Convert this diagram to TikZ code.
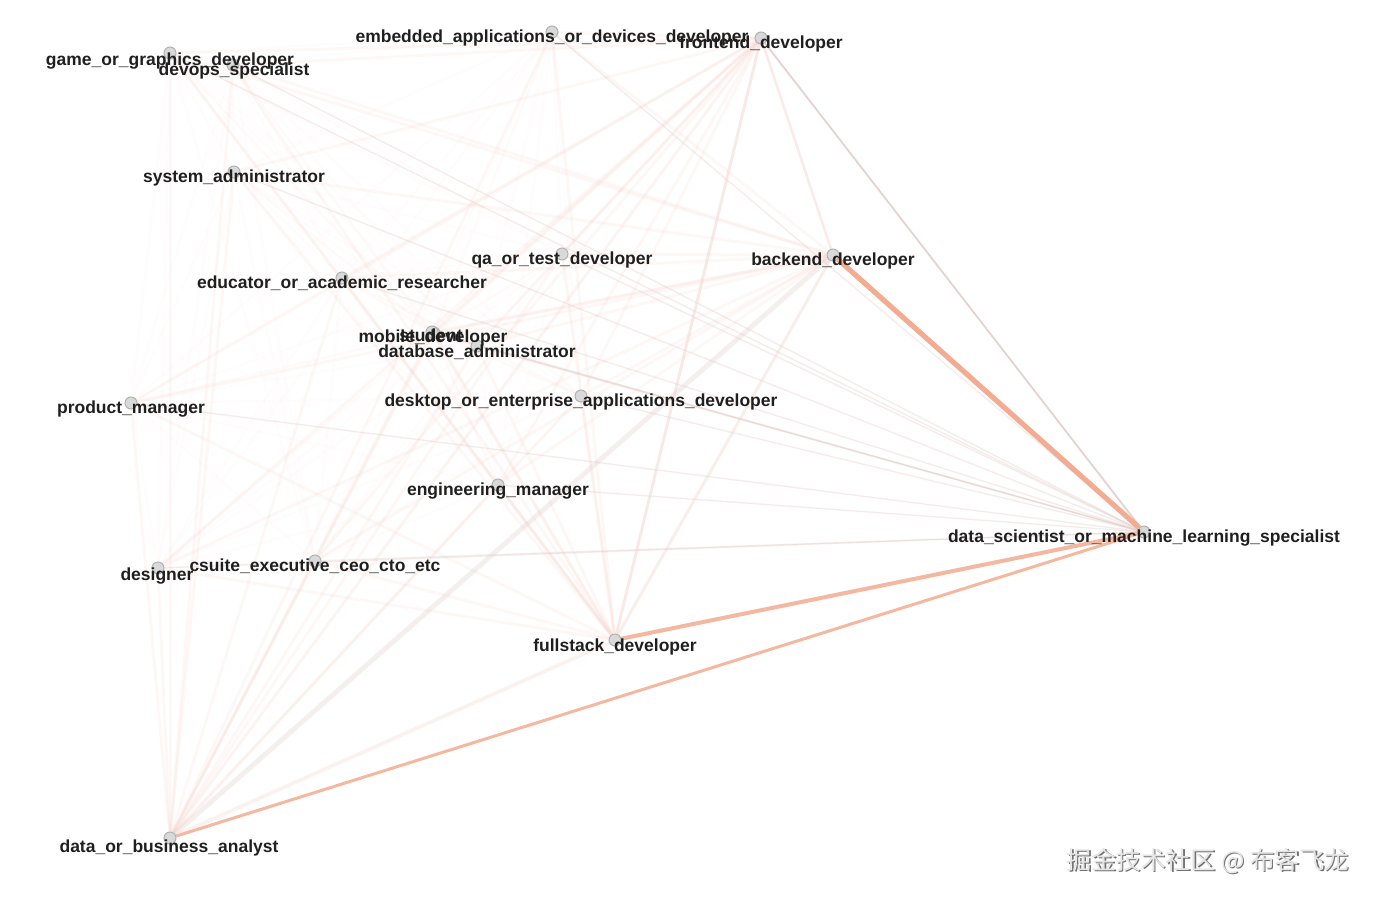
\documentclass[tikz,border=0pt]{standalone}
\usepackage{fontspec}
\setmainfont{Liberation Sans}
\newfontfamily\cjk{Noto Sans CJK SC}
\pgfdeclarelayer{bg}
\pgfsetlayers{bg,main}
\definecolor{edgebase}{RGB}{246,212,204}
\definecolor{edgehub}{RGB}{244,208,198}
\definecolor{edgeds}{RGB}{222,200,198}
\definecolor{strong}{RGB}{242,172,146}
\definecolor{strongb}{RGB}{244,184,160}
\definecolor{midpink}{RGB}{242,210,204}
\definecolor{graypink}{RGB}{222,204,202}
\tikzset{
  dot/.style={circle, minimum size=6pt, inner sep=0pt, fill=gray!30, draw=gray!60, line width=0.5pt},
  lab/.style={anchor=base, inner sep=0pt, text=black!88, font=\bfseries\fontsize{8.75}{10}\selectfont},
  base/.style={draw=edgebase, line width=1.2pt, opacity=0.06},
  hub/.style={draw=edgehub, line width=1.5pt, opacity=0.12},
  dsl/.style={draw=edgeds, line width=0.6pt, opacity=0.32},
  wm/.style={inner sep=0pt, font=\cjk\fontsize{12.4}{14}\selectfont}
}
\begin{document}
\begin{tikzpicture}[x=0.5pt,y=-0.5pt]
\useasboundingbox (0,0) rectangle (1376,900);
% node markers
\node[dot] (gg) at (170,53) {};
\node[dot] (dv) at (233,65) {};
\node[dot] (em) at (552,32) {};
\node[dot] (fe) at (761,38) {};
\node[dot] (sa) at (234,172) {};
\node[dot] (qa) at (562,254) {};
\node[dot] (be) at (833,255) {};
\node[dot] (ed) at (342,278) {};
\node[dot] (mo) at (434,333) {};
\node[dot] (st) at (432,332) {};
\node[dot] (db) at (477,346) {};
\node[dot] (pm) at (131,403) {};
\node[dot] (de) at (581,396) {};
\node[dot] (en) at (498,485) {};
\node[dot] (ds) at (1144,532) {};
\node[dot] (dz) at (158,568) {};
\node[dot] (cs) at (315,561) {};
\node[dot] (fs) at (615,640) {};
\node[dot] (da) at (170,838) {};
% edges
\begin{pgfonlayer}{bg}
\foreach \a [count=\i] in {gg,dv,em,fe,sa,qa,be,ed,mo,st,db,pm,de,en,ds,dz,cs,fs,da}{
  \foreach \b [count=\j] in {gg,dv,em,fe,sa,qa,be,ed,mo,st,db,pm,de,en,ds,dz,cs,fs,da}{
    \ifnum\j>\i \draw[base] (\a) -- (\b); \fi
  }
}
\foreach \h in {fe,be,fs,da}{
  \foreach \b in {gg,dv,em,sa,qa,ed,mo,st,db,pm,de,en,dz,cs}{
    \draw[hub] (\h) -- (\b);
  }
}
\foreach \b in {gg,dv,em,sa,qa,ed,mo,st,db,pm,de,en,dz,cs}{
  \draw[dsl] (ds) -- (\b);
}
\draw[draw=midpink, line width=1.5pt, opacity=0.45] (fe) -- (fs);
\draw[draw=midpink, line width=1.3pt, opacity=0.4] (fe) -- (be);
\draw[draw=midpink, line width=1.5pt, opacity=0.35] (be) -- (fs);
\draw[draw=midpink, line width=1.5pt, opacity=0.2] (fe) -- (da);
\draw[draw=graypink, line width=2.5pt, opacity=0.3] (da) -- (be);
\draw[draw=midpink, line width=2pt, opacity=0.25] (da) -- (fs);
\draw[draw=graypink, line width=0.9pt, opacity=0.85] (fe) -- (ds);
\draw[draw=strongb, line width=1.5pt] (da) -- (ds);
\draw[draw=strongb, line width=2pt] (fs) -- (ds);
\draw[draw=strong, line width=2.6pt] (be) -- (ds);
\end{pgfonlayer}
% labels
\node[lab] (gg-t) at (170,65) {game\_or\_graphics\_developer};
\node[lab] (dv-t) at (234,75) {devops\_specialist};
\node[lab] (em-t) at (552,42) {embedded\_applications\_or\_devices\_developer};
\node[lab] (fe-t) at (761,48) {frontend\_developer};
\node[lab] (sa-t) at (234,182) {system\_administrator};
\node[lab] (qa-t) at (562,264) {qa\_or\_test\_developer};
\node[lab] (be-t) at (833,265) {backend\_developer};
\node[lab] (ed-t) at (342,288) {educator\_or\_academic\_researcher};
\node[lab] (mo-t) at (433,342) {mobile\_developer};
\node[lab] (st-t) at (431,341) {student};
\node[lab] (db-t) at (477,357) {database\_administrator};
\node[lab] (pm-t) at (131,413) {product\_manager};
\node[lab] (de-t) at (581,406) {desktop\_or\_enterprise\_applications\_developer};
\node[lab] (en-t) at (498,495) {engineering\_manager};
\node[lab] (ds-t) at (1144,542) {data\_scientist\_or\_machine\_learning\_specialist};
\node[lab] (dz-t) at (157,580) {designer};
\node[lab] (cs-t) at (315,571) {csuite\_executive\_ceo\_cto\_etc};
\node[lab] (fs-t) at (615,651) {fullstack\_developer};
\node[lab] (da-t) at (169,852) {data\_or\_business\_analyst};
% watermark
\node[wm, text=black!55] (wms) at (1209.5,862.5) {掘金技术社区 @ 布客飞龙};
\node[wm, text=black!10] (wmt) at (1208,861) {掘金技术社区 @ 布客飞龙};
\end{tikzpicture}
\end{document}
